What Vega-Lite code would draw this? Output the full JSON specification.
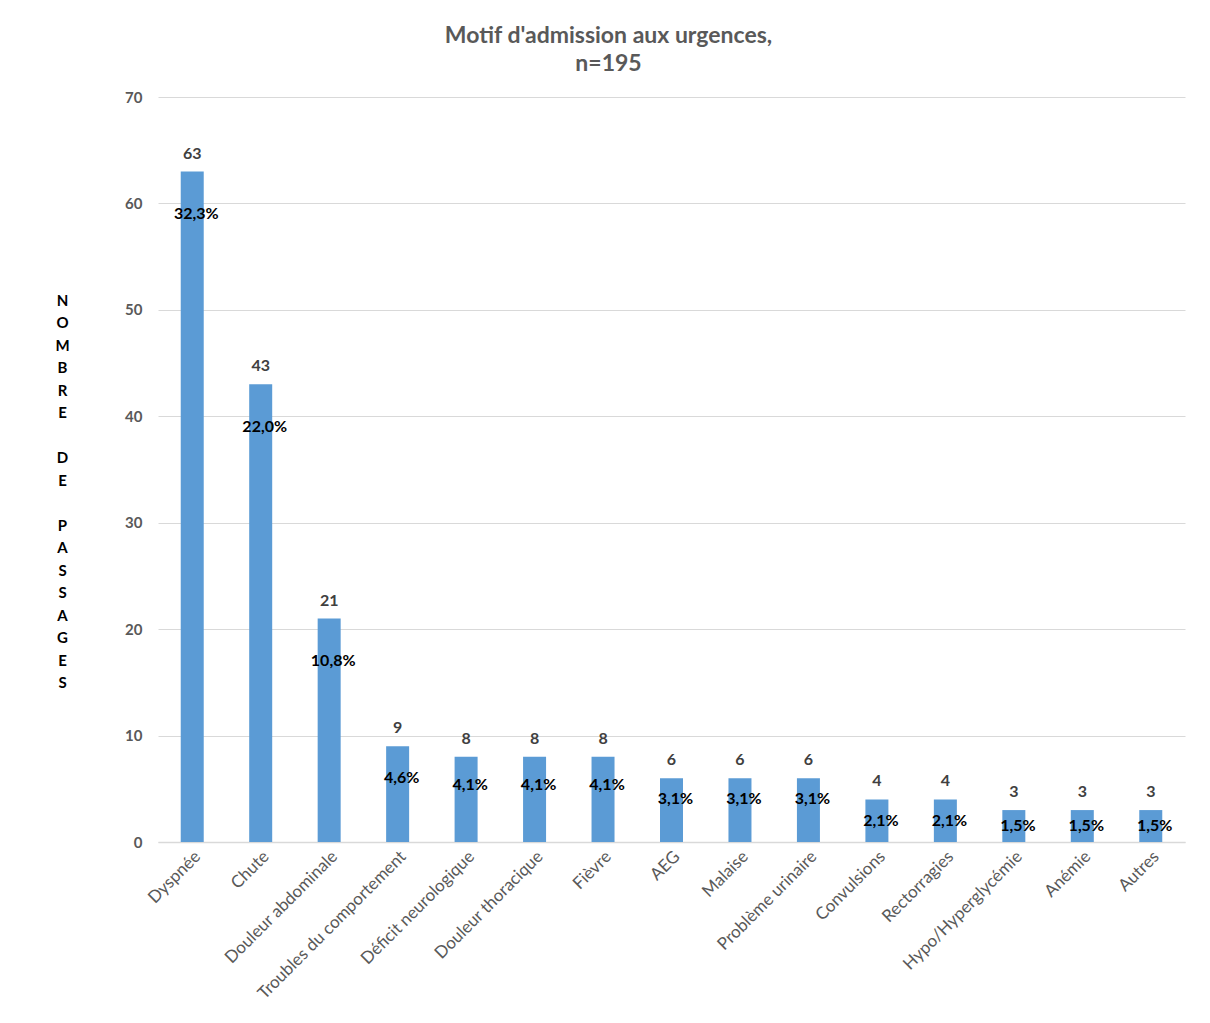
{
  "$schema": "https://vega.github.io/schema/vega-lite/v6.json",
  "autosize": {"type": "none"},
  "width": 1027,
  "height": 745,
  "padding": {"left": 158, "top": 97, "right": 25, "bottom": 181},
  "background": "white",
  "title": {
    "text": ["Motif d'admission aux urgences,", "n=195"],
    "font": "Lato",
    "fontSize": 23,
    "fontWeight": "bold",
    "color": "#595959",
    "anchor": "middle",
    "dx": -63,
    "offset": 14,
    "lineHeight": 28
  },
  "data": {
    "values": [
      {"motif": "Dyspnée", "count": 63, "pct": "32,3%"},
      {"motif": "Chute", "count": 43, "pct": "22,0%"},
      {"motif": "Douleur abdominale", "count": 21, "pct": "10,8%"},
      {"motif": "Troubles du comportement", "count": 9, "pct": "4,6%"},
      {"motif": "Déficit neurologique", "count": 8, "pct": "4,1%"},
      {"motif": "Douleur thoracique", "count": 8, "pct": "4,1%"},
      {"motif": "Fièvre", "count": 8, "pct": "4,1%"},
      {"motif": "AEG", "count": 6, "pct": "3,1%"},
      {"motif": "Malaise", "count": 6, "pct": "3,1%"},
      {"motif": "Problème urinaire", "count": 6, "pct": "3,1%"},
      {"motif": "Convulsions", "count": 4, "pct": "2,1%"},
      {"motif": "Rectorragies", "count": 4, "pct": "2,1%"},
      {"motif": "Hypo/Hyperglycémie", "count": 3, "pct": "1,5%"},
      {"motif": "Anémie", "count": 3, "pct": "1,5%"},
      {"motif": "Autres", "count": 3, "pct": "1,5%"}
    ]
  },
  "encoding": {
    "x": {
      "field": "motif",
      "type": "nominal",
      "sort": null,
      "scale": {"paddingInner": 0, "paddingOuter": 0},
      "axis": {
        "title": null,
        "labelAngle": -45,
        "labelAlign": "right",
        "labelBaseline": "top",
        "labelFont": "Lato",
        "labelFontSize": 17,
        "labelColor": "#595959",
        "labelPadding": 6,
        "labelLimit": 300,
        "ticks": false,
        "domainColor": "#d9d9d9",
        "domainWidth": 1.5,
        "grid": false
      }
    }
  },
  "layer": [
    {
      "mark": {"type": "bar", "width": 23, "color": "#5B9BD5"},
      "encoding": {
        "y": {
          "field": "count",
          "type": "quantitative",
          "scale": {"domain": [0, 70], "nice": false},
          "axis": {
            "values": [0, 10, 20, 30, 40, 50, 60, 70],
            "title": ["N", "O", "M", "B", "R", "E", "\u200b", "D", "E", "\u200b", "P", "A", "S", "S", "A", "G", "E", "S"],
            "titleAngle": 0,
            "titleAlign": "center",
            "titleBaseline": "top",
            "titleX": -96,
            "titleY": 196,
            "titleLineHeight": 22.5,
            "titleFont": "Lato",
            "titleFontSize": 15,
            "titleFontWeight": "bold",
            "titleColor": "#000000",
            "labelFont": "Lato",
            "labelFontSize": 15,
            "labelFontWeight": "bold",
            "labelColor": "#595959",
            "labelPadding": 16,
            "ticks": false,
            "domain": false,
            "gridColor": "#d9d9d9",
            "gridWidth": 1.2
          }
        }
      }
    },
    {
      "mark": {"type": "text", "baseline": "bottom", "dy": -10, "font": "Lato", "fontSize": 16, "fontWeight": "bold", "color": "#404040"},
      "encoding": {
        "y": {"field": "count", "type": "quantitative"},
        "text": {"field": "count", "type": "quantitative"}
      }
    },
    {
      "transform": [{"calculate": "datum.count >= 5 ? max(datum.count * 0.67, datum.count - 4) : datum.count * 0.5", "as": "pctpos"}],
      "mark": {"type": "text", "baseline": "middle", "dx": 4, "font": "Lato", "fontSize": 16, "fontWeight": "bold", "color": "#000000"},
      "encoding": {
        "y": {"field": "pctpos", "type": "quantitative"},
        "text": {"field": "pct", "type": "nominal"}
      }
    }
  ],
  "config": {"view": {"stroke": null}}
}
